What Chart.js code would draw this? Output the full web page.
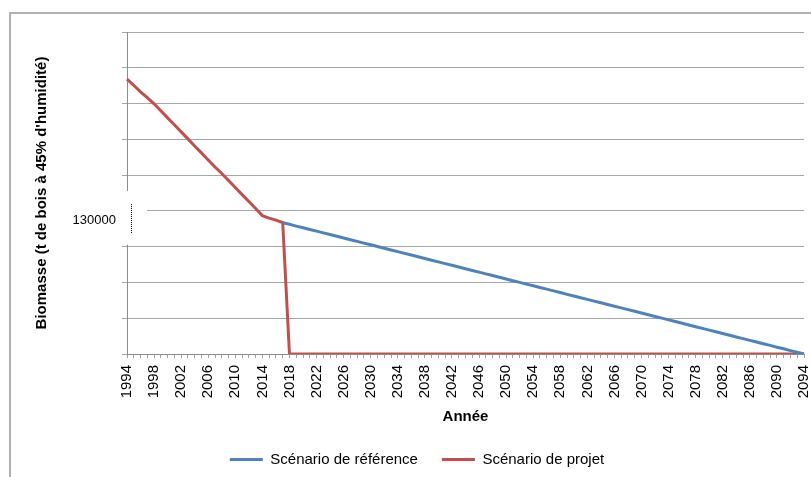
<!DOCTYPE html>
<html>
<head>
<meta charset="utf-8">
<script src="https://cdn.jsdelivr.net/npm/chart.js@4/dist/chart.umd.min.js"></script>
<style>
  html, body { margin: 0; padding: 0; background: #fff; }
  #wrap { width: 811px; height: 477px; }
</style>
</head>
<body>
<div id="wrap"><canvas id="biomasseChart" width="811" height="477"></canvas></div>
<script>
// Years 1994..2094 (category axis)
const years = [];
for (let y = 1994; y <= 2094; y++) years.push(String(y));

// Scénario de projet (t)
const projet = [
  249600, 244100, 238200, 232800, 227300, 220900, 214500, 208200, 201800, 195400,
  189000, 182700, 176300, 169900, 164000, 157600, 151200, 144800, 138500, 132100,
  125700, 123400, 121600, 119300,
  0, 0, 0, 0, 0, 0, 0, 0, 0, 0, 0, 0, 0, 0, 0, 0, 0, 0, 0, 0,
  0, 0, 0, 0, 0, 0, 0, 0, 0, 0, 0, 0, 0, 0, 0, 0, 0, 0, 0, 0,
  0, 0, 0, 0, 0, 0, 0, 0, 0, 0, 0, 0, 0, 0, 0, 0, 0, 0, 0, 0,
  0, 0, 0, 0, 0, 0, 0, 0, 0, 0, 0, 0, 0, 0, 0, 0, 0
];

// Scénario de référence (t) - same as projet until 2017, hidden underneath
const reference = [
  null, null, null, null, null, null, null, null, null, null,
  null, null, null, null, null, null, null, null, null, null,
  null, null, null, 119300,
  117800, 116200, 114700, 113100, 111600, 110000, 108500, 106900, 105400, 103800,
  102300, 100700, 99200, 97600, 96100, 94500, 93000, 91400, 89900, 88300,
  86800, 85200, 83700, 82100, 80600, 79000, 77500, 75900, 74400, 72800,
  71300, 69700, 68200, 66600, 65100, 63500, 62000, 60400, 58900, 57300,
  55800, 54200, 52700, 51100, 49600, 48000, 46500, 45000, 43400, 41900,
  40300, 38800, 37200, 35700, 34100, 32600, 31000, 29500, 27900, 26400,
  24800, 23300, 21700, 20200, 18600, 17100, 15500, 14000, 12400, 10900,
  9300, 7800, 6200, 4700, 3100, 1600, 0
];

// y axis gridlines
const yStep = 32500;
const yMax = 292500;
const yLabel = 130000;

const FONT = "'Liberation Sans', Arial, sans-serif";

// outer frame + broken y axis with dotted segment
const decor = {
  id: 'decor',
  beforeDraw(chart) {
    const ctx = chart.ctx;
    ctx.save();
    ctx.strokeStyle = '#b0b0b0';
    ctx.lineWidth = 2;
    ctx.strokeRect(10, 13, 1000, 800);
    ctx.restore();
  },
  beforeDatasetsDraw(chart) {
    const ctx = chart.ctx;
    const ys = chart.scales.y;
    const left = chart.chartArea.left;
    const top = ys.getPixelForValue(5 * yStep) + 16;
    const bottom = ys.getPixelForValue(3 * yStep) - 2;
    ctx.save();
    ctx.fillStyle = '#fff';
    ctx.fillRect(left - 8, top, 28, bottom - top);
    ctx.strokeStyle = '#000';
    ctx.lineWidth = 1;
    ctx.setLineDash([1, 1]);
    const mid = ys.getPixelForValue(yLabel);
    ctx.beginPath();
    ctx.moveTo(left + 4.5, mid - 7);
    ctx.lineTo(left + 4.5, mid + 23);
    ctx.stroke();
    ctx.restore();
  }
};

new Chart(document.getElementById('biomasseChart'), {
  type: 'line',
  data: {
    labels: years,
    datasets: [
      {
        label: 'Scénario de référence',
        data: reference,
        borderColor: '#4F81BD',
        backgroundColor: '#4F81BD',
        borderWidth: 3,
        pointRadius: 0,
        tension: 0,
        spanGaps: false
      },
      {
        label: 'Scénario de projet',
        data: projet,
        borderColor: '#C0504D',
        backgroundColor: '#C0504D',
        borderWidth: 3,
        pointRadius: 0,
        tension: 0
      }
    ]
  },
  options: {
    responsive: false,
    animation: false,
    layout: { padding: { left: 30, right: 7, top: 32, bottom: 0 } },
    plugins: {
      tooltip: { enabled: false },
      legend: {
        position: 'bottom',
        labels: {
          boxWidth: 33,
          boxHeight: 3,
          padding: 24,
          color: '#000',
          font: { family: FONT, size: 15 },
          generateLabels: (chart) =>
            Chart.defaults.plugins.legend.labels.generateLabels(chart).map(l => ({ ...l, lineWidth: 0 }))
        }
      }
    },
    scales: {
      x: {
        type: 'category',
        offset: false,
        afterFit: (s) => { s.height = 74; s.paddingLeft = 0; s.paddingRight = 0; },
        grid: { drawOnChartArea: false, tickLength: 4, color: '#a0a0a0' },
        border: { color: '#8c8c8c' },
        ticks: {
          autoSkip: false,
          minRotation: 90,
          maxRotation: 90,
          padding: 7,
          color: '#000',
          font: { family: FONT, size: 15 },
          callback: (v, i) => (i % 4 === 0 ? years[i] : '')
        },
        title: {
          display: true,
          text: 'Année',
          color: '#000',
          font: { family: FONT, size: 15, weight: 'bold' },
          padding: { top: 0, bottom: 2 }
        }
      },
      y: {
        min: 0,
        max: yMax,
        afterFit: (s) => { s.width = 97; },
        grid: { color: '#a6a6a6', tickLength: 5 },
        border: { color: '#8c8c8c' },
        ticks: {
          stepSize: yStep,
          padding: 6,
          labelOffset: 10,
          color: '#000',
          font: { family: FONT, size: 13 },
          callback: (v) => (v === yLabel ? String(yLabel) : '')
        },
        title: {
          display: true,
          text: "Biomasse (t de bois à 45% d'humidité)",
          color: '#000',
          font: { family: FONT, size: 15, weight: 'bold' },
          padding: { top: 3, bottom: 0 }
        }
      }
    }
  },
  plugins: [decor]
});
</script>
</body>
</html>
